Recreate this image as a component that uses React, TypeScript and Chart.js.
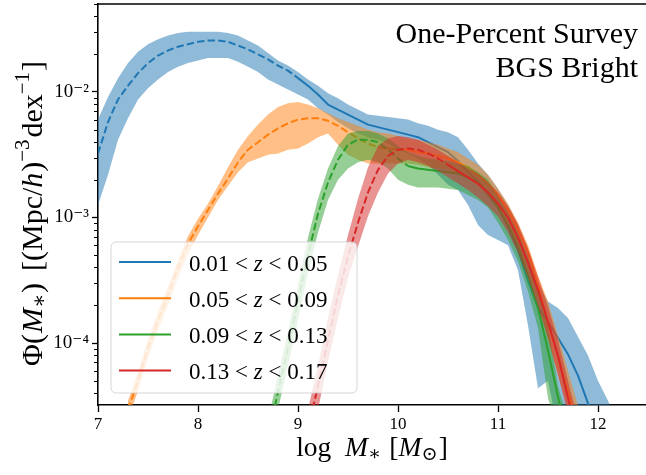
import React, { useEffect, useRef } from "react";
import { Chart, registerables } from "chart.js";

Chart.register(...registerables);

const SERIF = '"Liberation Serif", "DejaVu Serif", serif';
const W = 646;
const H = 475;

// ---- data (log10 of Phi) ----
const blueX = [7.0, 7.1, 7.2, 7.3, 7.4, 7.5, 7.6, 7.7, 7.8, 7.9, 8.0, 8.1, 8.2, 8.3, 8.4, 8.5, 8.6, 8.7, 8.8, 8.9, 9.0, 9.1, 9.2, 9.3, 9.4, 9.5, 9.6, 9.7, 9.8, 9.9, 10.0, 10.1, 10.2, 10.3, 10.4, 10.5, 10.6, 10.7, 10.8, 10.9, 11.0, 11.1, 11.2, 11.3, 11.4, 11.5, 11.6, 11.7, 11.8, 11.9, 12.0, 12.1, 12.2];
const blueMid = [-2.49, -2.24, -2.06, -1.95, -1.85, -1.77, -1.71, -1.67, -1.64, -1.62, -1.60, -1.59, -1.59, -1.60, -1.63, -1.66, -1.70, -1.74, -1.79, -1.83, -1.89, -1.95, -2.02, -2.10, -2.14, -2.18, -2.22, -2.26, -2.28, -2.30, -2.32, -2.34, -2.36, -2.40, -2.44, -2.48, -2.55, -2.64, -2.71, -2.82, -2.92, -3.07, -3.26, -3.50, -3.72, -3.83, -3.96, -4.09, -4.26, -4.48, -4.69, -5.00, -5.30];
const blueHi = [-2.22, -2.04, -1.89, -1.77, -1.68, -1.62, -1.58, -1.55, -1.53, -1.52, -1.52, -1.52, -1.52, -1.53, -1.55, -1.59, -1.63, -1.69, -1.75, -1.79, -1.84, -1.90, -1.95, -2.01, -2.05, -2.10, -2.14, -2.18, -2.19, -2.20, -2.21, -2.22, -2.25, -2.27, -2.30, -2.32, -2.36, -2.46, -2.57, -2.66, -2.77, -2.90, -3.06, -3.26, -3.52, -3.67, -3.72, -3.80, -3.95, -4.10, -4.30, -4.46, -4.65];
const blueLo = [-2.90, -2.66, -2.38, -2.21, -2.06, -1.97, -1.90, -1.84, -1.80, -1.77, -1.75, -1.73, -1.73, -1.73, -1.76, -1.80, -1.84, -1.90, -1.94, -1.98, -2.02, -2.06, -2.13, -2.18, -2.24, -2.29, -2.33, -2.36, -2.38, -2.41, -2.46, -2.49, -2.53, -2.58, -2.66, -2.74, -2.78, -2.90, -3.06, -3.14, -3.18, -3.22, -3.42, -3.86, -4.36, -4.30, -4.69, -5.00, -5.20, -5.30, -5.40, -5.50, -5.60];

const orangeX = [7.3, 7.4, 7.5, 7.6, 7.7, 7.8, 7.9, 8.0, 8.1, 8.2, 8.3, 8.4, 8.5, 8.6, 8.7, 8.8, 8.9, 9.0, 9.1, 9.2, 9.3, 9.4, 9.5, 9.6, 9.7, 9.8, 9.9, 10.0, 10.1, 10.2, 10.3, 10.4, 10.5, 10.6, 10.7, 10.8, 10.9, 11.0, 11.1, 11.2, 11.3, 11.4, 11.5, 11.6, 11.7, 11.8];
const orangeMid = [-4.53, -4.30, -4.04, -3.82, -3.62, -3.40, -3.21, -3.07, -2.94, -2.81, -2.69, -2.56, -2.46, -2.40, -2.34, -2.29, -2.25, -2.22, -2.21, -2.21, -2.23, -2.27, -2.32, -2.37, -2.41, -2.44, -2.45, -2.46, -2.46, -2.48, -2.49, -2.51, -2.53, -2.56, -2.60, -2.66, -2.73, -2.82, -2.94, -3.10, -3.28, -3.54, -3.84, -4.11, -4.39, -4.65];
const orangeHi = [-4.46, -4.23, -3.97, -3.75, -3.55, -3.34, -3.15, -3.01, -2.89, -2.75, -2.60, -2.46, -2.35, -2.26, -2.18, -2.12, -2.09, -2.08, -2.10, -2.13, -2.17, -2.21, -2.24, -2.27, -2.30, -2.32, -2.33, -2.35, -2.37, -2.38, -2.40, -2.42, -2.45, -2.48, -2.53, -2.58, -2.66, -2.77, -2.89, -3.04, -3.22, -3.46, -3.67, -3.94, -4.22, -4.50];
const orangeLo = [-4.61, -4.38, -4.12, -3.90, -3.70, -3.48, -3.29, -3.14, -3.00, -2.86, -2.75, -2.64, -2.56, -2.53, -2.50, -2.49, -2.46, -2.45, -2.41, -2.36, -2.33, -2.42, -2.50, -2.54, -2.57, -2.57, -2.57, -2.57, -2.57, -2.58, -2.60, -2.61, -2.62, -2.65, -2.69, -2.75, -2.83, -2.92, -3.06, -3.22, -3.42, -3.66, -3.98, -4.26, -4.53, -4.77];

const greenX = [8.7, 8.8, 8.9, 9.0, 9.1, 9.2, 9.3, 9.4, 9.5, 9.6, 9.7, 9.8, 9.9, 10.0, 10.1, 10.2, 10.3, 10.4, 10.5, 10.6, 10.7, 10.8, 10.9, 11.0, 11.1, 11.2, 11.3, 11.4, 11.5, 11.6, 11.7];
const greenMid = [-4.75, -4.39, -4.04, -3.67, -3.30, -2.97, -2.72, -2.54, -2.42, -2.38, -2.38, -2.40, -2.46, -2.53, -2.59, -2.61, -2.62, -2.63, -2.64, -2.65, -2.68, -2.72, -2.80, -2.92, -3.06, -3.23, -3.46, -3.72, -4.06, -4.43, -4.77];
const greenHi = [-4.61, -4.26, -3.91, -3.54, -3.16, -2.85, -2.61, -2.43, -2.33, -2.31, -2.31, -2.33, -2.37, -2.43, -2.48, -2.51, -2.53, -2.54, -2.55, -2.57, -2.59, -2.64, -2.70, -2.83, -2.96, -3.12, -3.32, -3.56, -3.86, -4.34, -4.61];
const greenLo = [-4.93, -4.53, -4.18, -3.82, -3.44, -3.12, -2.86, -2.70, -2.61, -2.56, -2.54, -2.56, -2.61, -2.70, -2.74, -2.76, -2.76, -2.76, -2.77, -2.78, -2.82, -2.86, -2.92, -3.04, -3.18, -3.35, -3.59, -3.88, -4.44, -4.69, -4.93];

const redX = [9.1, 9.2, 9.3, 9.4, 9.5, 9.6, 9.7, 9.8, 9.9, 10.0, 10.1, 10.2, 10.3, 10.4, 10.5, 10.6, 10.7, 10.8, 10.9, 11.0, 11.1, 11.2, 11.3, 11.4, 11.5, 11.6, 11.7, 11.8];
const redMid = [-4.69, -4.34, -3.98, -3.62, -3.31, -3.04, -2.80, -2.62, -2.51, -2.46, -2.45, -2.46, -2.49, -2.53, -2.58, -2.63, -2.68, -2.73, -2.80, -2.89, -3.00, -3.16, -3.36, -3.58, -3.83, -4.10, -4.44, -4.77];
const redHi = [-4.53, -4.18, -3.80, -3.46, -3.14, -2.85, -2.60, -2.43, -2.37, -2.35, -2.36, -2.38, -2.42, -2.46, -2.51, -2.56, -2.61, -2.65, -2.72, -2.80, -2.91, -3.05, -3.24, -3.47, -3.71, -3.98, -4.30, -4.61];
const redLo = [-4.89, -4.53, -4.15, -3.80, -3.48, -3.23, -2.99, -2.80, -2.65, -2.57, -2.54, -2.56, -2.59, -2.63, -2.68, -2.73, -2.78, -2.84, -2.91, -2.99, -3.12, -3.28, -3.48, -3.71, -3.96, -4.25, -4.57, -4.93];

// redshift bins (legend)
const zLow = ["0.01", "0.05", "0.09", "0.13"];
const zHigh = ["0.05", "0.09", "0.13", "0.17"];
// log M* above which the estimate is complete (solid line); dashed below
const completeFrom = [9.0, 9.8, 10.05, 10.45];

const lineColors = ["#1f77b4", "#ff7f0e", "#2ca02c", "#d62728"];
const bandColors = [
  "rgba(31,119,180,0.5)",
  "rgba(255,127,14,0.5)",
  "rgba(44,160,44,0.5)",
  "rgba(214,39,40,0.5)",
];

// axes
const xMin = 7;
const xMax = 12.48;
const yMin = 3.21e-5;
const yMax = 5.02e-2;
const yMajorTicks = [1e-4, 1e-3, 1e-2];
const yMinorExponents = [-5, -4, -3, -2];
const annotationLines = ["One-Percent Survey", "BGS Bright"];

const seriesList = [
  { x: blueX, mid: blueMid, hi: blueHi, lo: blueLo },
  { x: orangeX, mid: orangeMid, hi: orangeHi, lo: orangeLo },
  { x: greenX, mid: greenMid, hi: greenHi, lo: greenLo },
  { x: redX, mid: redMid, hi: redHi, lo: redLo },
];

const SUP: Record<string, string> = {
  "-": "\u207B", "0": "\u2070", "1": "\u00B9", "2": "\u00B2", "3": "\u00B3",
  "4": "\u2074", "5": "\u2075", "6": "\u2076", "7": "\u2077", "8": "\u2078", "9": "\u2079",
};
const toSup = (n: number) => String(n).split("").map((c) => SUP[c] ?? c).join("");

type Seg = { t: string; it?: boolean; s?: number; dy?: number; dx?: number };

const fontStr = (size: number, italic?: boolean) =>
  `${italic ? "italic " : ""}${size.toFixed(1)}px ${SERIF}`;

function drawRich(
  ctx: CanvasRenderingContext2D,
  segs: Seg[],
  x: number,
  y: number,
  size: number,
  align: "left" | "center" | "right",
  rot = 0
) {
  ctx.save();
  ctx.translate(x, y);
  if (rot) ctx.rotate(rot);
  ctx.textBaseline = "alphabetic";
  ctx.textAlign = "left";
  ctx.fillStyle = "#000";
  const ws = segs.map((sg) => {
    ctx.font = fontStr(size * (sg.s ?? 1), sg.it);
    return ctx.measureText(sg.t).width;
  });
  const total = segs.reduce((a, sg, i) => a + ws[i] + (sg.dx ?? 0) * size, 0);
  let cx = align === "center" ? -total / 2 : align === "right" ? -total : 0;
  segs.forEach((sg, i) => {
    cx += (sg.dx ?? 0) * size;
    ctx.font = fontStr(size * (sg.s ?? 1), sg.it);
    ctx.fillText(sg.t, cx, (sg.dy ?? 0) * size);
    cx += ws[i];
  });
  ctx.restore();
}

const xTitle: Seg[] = [
  { t: "log" },
  { t: "M", it: true, dx: 0.5 },
  { t: "\u2217", s: 0.7, dy: 0.14 },
  { t: "[", dx: 0.3 },
  { t: "M", it: true },
  { t: "\u2299", s: 0.7, dy: 0.16 },
  { t: "]", dx: 0.04 },
];

const yTitle: Seg[] = [
  { t: "\u03A6(" },
  { t: "M", it: true, dx: 0.03 },
  { t: "\u2217", s: 0.7, dy: 0.14 },
  { t: ")", dx: 0.03 },
  { t: "[(Mpc/", dx: 0.4 },
  { t: "h", it: true },
  { t: ")", dx: 0.03 },
  { t: "\u22123", s: 0.7, dy: -0.42 },
  { t: "dex", dx: 0.06 },
  { t: "\u22121", s: 0.7, dy: -0.42 },
  { t: "]", dx: 0.03 },
];

const decorPlugin = {
  id: "decor",
  afterDatasetsDraw(chart: any) {
    const ctx: CanvasRenderingContext2D = chart.ctx;
    const ca = chart.chartArea;
    // legend box
    const bx = ca.left + 13;
    const by = ca.bottom - 163;
    const bw = 246;
    const bh = 151;
    const r = 5;
    ctx.save();
    ctx.beginPath();
    ctx.moveTo(bx + r, by);
    ctx.lineTo(bx + bw - r, by);
    ctx.arcTo(bx + bw, by, bx + bw, by + r, r);
    ctx.lineTo(bx + bw, by + bh - r);
    ctx.arcTo(bx + bw, by + bh, bx + bw - r, by + bh, r);
    ctx.lineTo(bx + r, by + bh);
    ctx.arcTo(bx, by + bh, bx, by + bh - r, r);
    ctx.lineTo(bx, by + r);
    ctx.arcTo(bx, by, bx + r, by, r);
    ctx.closePath();
    ctx.fillStyle = "rgba(255,255,255,0.8)";
    ctx.fill();
    ctx.strokeStyle = "rgba(204,204,204,0.8)";
    ctx.lineWidth = 1;
    ctx.stroke();
    zLow.forEach((lo, i) => {
      const ly = by + 20 + i * 36.2;
      ctx.beginPath();
      ctx.moveTo(bx + 8, ly);
      ctx.lineTo(bx + 60, ly);
      ctx.strokeStyle = lineColors[i];
      ctx.lineWidth = 2;
      ctx.stroke();
      drawRich(
        ctx,
        [{ t: lo + " < " }, { t: "z", it: true }, { t: " < " + zHigh[i] }],
        bx + 78,
        ly + 8.5,
        23,
        "left"
      );
    });
    ctx.restore();
  },
  afterDraw(chart: any) {
    const ctx: CanvasRenderingContext2D = chart.ctx;
    const ca = chart.chartArea;
    const ys = chart.scales.y;
    ctx.save();
    // top spine
    ctx.strokeStyle = "#000";
    ctx.lineWidth = 1.6;
    ctx.beginPath();
    ctx.moveTo(ca.left - 0.8, ca.top);
    ctx.lineTo(ca.right, ca.top);
    ctx.stroke();
    // minor ticks on the log axis
    ctx.lineWidth = 1;
    yMinorExponents.forEach((e) => {
      for (let m = 2; m <= 9; m++) {
        const v = m * Math.pow(10, e);
        if (v < yMin || v > yMax) continue;
        const py = Math.round(ys.getPixelForValue(v)) + 0.5;
        ctx.beginPath();
        ctx.moveTo(ca.left - 4, py);
        ctx.lineTo(ca.left, py);
        ctx.stroke();
      }
    });
    // annotation
    ctx.fillStyle = "#000";
    ctx.font = fontStr(30);
    ctx.textAlign = "right";
    ctx.textBaseline = "alphabetic";
    annotationLines.forEach((t, i) => ctx.fillText(t, ca.right - 8, 43 + i * 34));
    ctx.restore();
    // axis titles
    drawRich(ctx, xTitle, (ca.left + ca.right) / 2, 456, 27.5, "center");
    drawRich(ctx, yTitle, 42, (ca.top + ca.bottom) / 2 + 9, 30, "center", -Math.PI / 2);
  },
};

function buildDatasets() {
  const datasets: any[] = [];
  seriesList.forEach((s, i) => {
    const base = datasets.length;
    const pts = (arr: number[]) => s.x.map((x, k) => ({ x, y: Math.pow(10, arr[k]) }));
    const ord = 100 - i * 10;
    datasets.push({
      data: pts(s.lo),
      borderColor: "rgba(0,0,0,0)",
      borderWidth: 0,
      pointRadius: 0,
      fill: false,
      order: ord,
      clip: 0,
    });
    datasets.push({
      data: pts(s.hi),
      borderColor: "rgba(0,0,0,0)",
      borderWidth: 0,
      pointRadius: 0,
      backgroundColor: bandColors[i],
      fill: { target: base, above: bandColors[i], below: bandColors[i] },
      order: ord - 1,
      clip: 0,
    });
    datasets.push({
      data: pts(s.mid),
      borderColor: lineColors[i],
      borderWidth: 2,
      pointRadius: 0,
      fill: false,
      order: ord - 2,
      clip: 0,
      borderJoinStyle: "round",
      segment: {
        borderDash: (c: any) => (c.p0.parsed.x < completeFrom[i] - 1e-6 ? [7.4, 3.2] : undefined),
      },
    });
  });
  return datasets;
}

export default function App() {
  const ref = useRef<HTMLCanvasElement>(null);
  useEffect(() => {
    const canvas = ref.current;
    if (!canvas) return;
    const chart = new Chart(canvas, {
      type: "line",
      data: { datasets: buildDatasets() },
      options: {
        animation: false,
        responsive: false,
        devicePixelRatio: 1,
        events: [],
        layout: { padding: { top: 4, left: 0, right: 0, bottom: 0 } },
        elements: { line: { tension: 0 } },
        plugins: { legend: { display: false }, tooltip: { enabled: false } },
        scales: {
          x: {
            type: "linear",
            min: xMin,
            max: xMax,
            z: 1,
            ticks: {
              stepSize: 1,
              includeBounds: false,
              autoSkip: false,
              maxRotation: 0,
              padding: 2,
              color: "#000",
              font: { family: SERIF, size: 17 },
            },
            grid: { drawOnChartArea: false, drawTicks: true, tickLength: 7, tickColor: "#000", tickWidth: 1.3 },
            border: { display: true, color: "#000", width: 1.6 },
            afterBuildTicks: (s: any) => {
              s.ticks = s.ticks.filter((t: any) => Math.abs(t.value - Math.round(t.value)) < 1e-9);
            },
            afterFit: (s: any) => {
              s.height = 70;
              s.paddingLeft = 0;
              s.paddingRight = 0;
            },
          },
          y: {
            type: "logarithmic",
            min: yMin,
            max: yMax,
            z: 1,
            ticks: {
              padding: 3,
              color: "#000",
              font: { family: SERIF, size: 19 },
              callback: (v: any) => "10" + toSup(Math.round(Math.log10(Number(v)))),
            },
            grid: { drawOnChartArea: false, drawTicks: true, tickLength: 6, tickColor: "#000", tickWidth: 1.3 },
            border: { display: true, color: "#000", width: 1.6 },
            afterBuildTicks: (s: any) => {
              s.ticks = yMajorTicks.map((v) => ({ value: v, major: true }));
            },
            afterFit: (s: any) => {
              s.width = 98;
              s.paddingTop = 0;
              s.paddingBottom = 0;
            },
          },
        },
      },
      plugins: [decorPlugin],
    } as any);
    return () => chart.destroy();
  }, []);
  return (
    <div style={{ position: "absolute", left: 0, top: 0, width: W, height: H, background: "#fff" }}>
      <canvas ref={ref} width={W} height={H} style={{ display: "block", width: W, height: H }} />
    </div>
  );
}
